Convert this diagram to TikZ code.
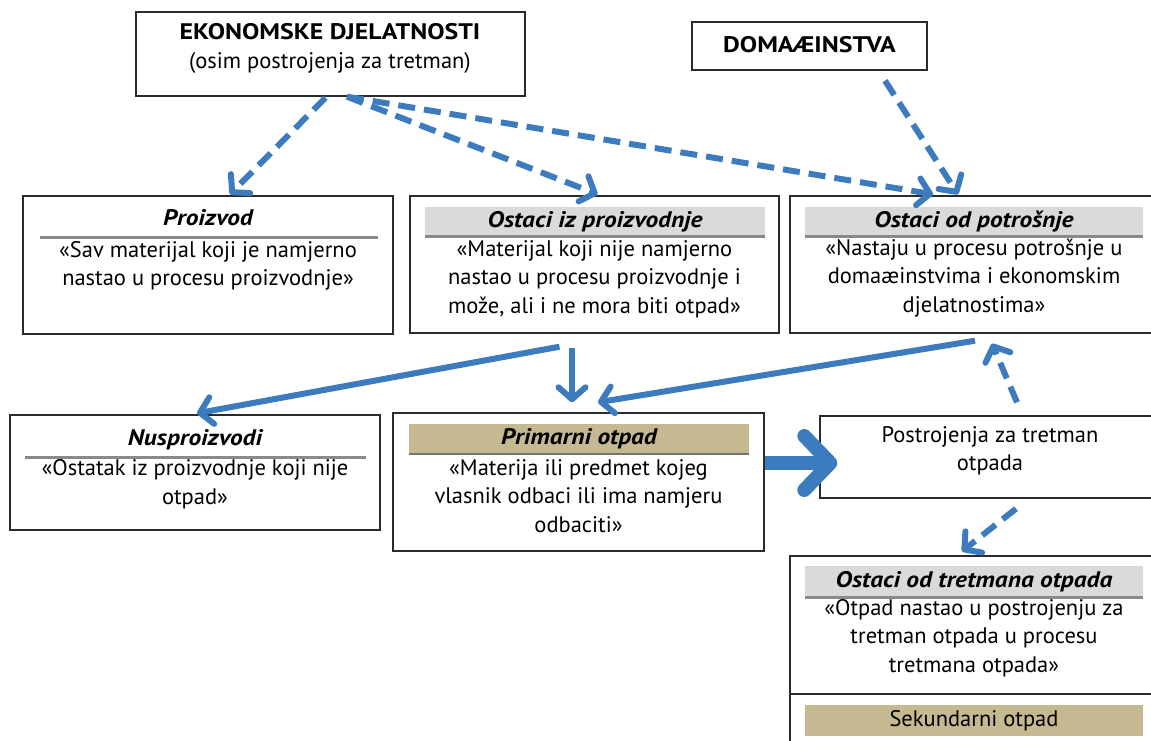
\documentclass[tikz,border=0pt]{standalone}
\usepackage{fontspec}
\setmainfont{PT Sans}
\newfontfamily\headfont[FakeStretch=1.13]{PT Sans}
\newfontfamily\capsfont[FakeStretch=1.15]{PT Sans}
\usetikzlibrary{arrows.meta,calc}
\definecolor{flow}{HTML}{3D7BBF}
\definecolor{boxline}{HTML}{2B2B2B}
\definecolor{headgray}{HTML}{DADADA}
\definecolor{rulegray}{HTML}{8A8A8A}
\definecolor{tan}{HTML}{C4B990}
\tikzset{
  box/.style={draw=boxline, line width=1.4pt, inner sep=0pt},
  txt/.style={align=center, inner sep=0pt, font=\fontsize{22.5}{28.5}\selectfont},
  ttl/.style={inner sep=0pt, font=\fontsize{22.5}{28}\selectfont\headfont\bfseries\itshape},
  grayhead/.style={fill=headgray, inner sep=0pt, font=\fontsize{22.5}{28}\selectfont\headfont\bfseries\itshape},
  tanhead/.style={fill=tan, inner sep=0pt, font=\fontsize{22.5}{28}\selectfont},
  headrule/.style={draw=rulegray, line width=3pt},
  solidflow/.style={draw=flow, line width=6pt, -{Straight Barb[length=12pt,width=27pt,round]}},
  dashflow/.style={solidflow, dash pattern=on 17pt off 9pt},
}
\begin{document}
\begin{tikzpicture}[x=1pt,y=-1pt]
\useasboundingbox (0,0) rectangle (1151,740);

% boxes
\node[box, minimum width=389, minimum height=84] (eko) at (330.5,54) {};
\node[box, minimum width=235, minimum height=48] (dom) at (809.5,46) {};
\node[box, minimum width=370, minimum height=138] (pro) at (208,265) {};
\node[box, minimum width=369, minimum height=137] (oip) at (594.5,264.5) {};
\node[box, minimum width=370, minimum height=137] (oop) at (975,264.5) {};
\node[box, minimum width=370, minimum height=115] (nus) at (195,472.5) {};
\node[box, minimum width=371, minimum height=138] (pri) at (578.5,482) {};
\node[box, minimum width=340, minimum height=82] (pos) at (990,457) {};
\node[box, minimum width=370, minimum height=190] (ott) at (975,651) {};
\draw[boxline, line width=1.4pt] (ott.west |- 0,694) -- (ott.east |- 0,694);

% top labels
\node[txt] (ekot) at (330,48.5) {{\capsfont\bfseries EKONOMSKE DJELATNOSTI}\\(osim postrojenja za tretman)};
\node[txt, font=\fontsize{22.5}{28}\selectfont\capsfont\bfseries] (domt) at (809.5,45) {DOMAÆINSTVA};

% Proizvod
\node[ttl] (prot) at (208,218) {Proizvod};
\draw[headrule] (40,237) -- (378,237);
\node[txt] (prob) at (208,266) {«Sav materijal koji je namjerno\\nastao u procesu proizvodnje»};

% Ostaci iz proizvodnje
\node[grayhead, minimum width=340, minimum height=29] (oiph) at (595,221.5) {Ostaci iz proizvodnje};
\draw[headrule] (oiph.south west) -- (oiph.south east);
\node[txt] (oipb) at (594.5,279) {«Materijal koji nije namjerno\\nastao u procesu proizvodnje i\\može, ali i ne mora biti otpad»};

% Ostaci od potrosnje
\node[grayhead, minimum width=338, minimum height=29] (ooph) at (974,221.5) {Ostaci od potrošnje};
\draw[headrule] (ooph.south west) -- (ooph.south east);
\node[txt] (oopb) at (974,278) {«Nastaju u procesu potrošnje u\\domaæinstvima i ekonomskim\\djelatnostima»};

% Nusproizvodi
\node[ttl] (nust) at (195,440) {Nusproizvodi};
\draw[headrule] (25,457) -- (366,457);
\node[txt] (nusb) at (195,484) {«Ostatak iz proizvodnje koji nije\\otpad»};

% Primarni otpad
\node[tanhead, minimum width=340, minimum height=30, font=\fontsize{22.5}{28}\selectfont\headfont\bfseries\itshape] (prih) at (579,439) {Primarni otpad};
\draw[line width=2pt, draw=black!55] (prih.south west) -- (prih.south east);
\node[txt] (prib) at (578.5,496) {«Materija ili predmet kojeg\\vlasnik odbaci ili ima namjeru\\odbaciti»};

% Postrojenja za tretman otpada
\node[txt] (post) at (990,451) {Postrojenja za tretman\\otpada};

% Ostaci od tretmana otpada
\node[grayhead, minimum width=338, minimum height=31] (otth) at (974,581.5) {Ostaci od tretmana otpada};
\draw[headrule] (otth.south west) -- (otth.south east);
\node[txt] (ottb) at (974,638) {«Otpad nastao u postrojenju za\\tretman otpada u procesu\\tretmana otpada»};
\node[tanhead, minimum width=338, minimum height=31] (sek) at (974,720.5) {Sekundarni otpad};

% flows
\draw[dashflow] ($(eko.south)+(-5,1)$) -- ($(pro.north)+(22,-1)$);
\draw[dashflow] ($(eko.south)+(16.5,0)$) -- ($(oip.north)+(3,-1)$);
\draw[dashflow] ($(eko.south)+(16.5,0)$) -- ($(oop.north)+(-42,-1)$);
\draw[dashflow] ($(dom.south)+(75.5,10)$) -- ($(oop.north)+(-17,-1)$);
\draw[solidflow] ($(oip.south)+(-35,13)$) -- ($(nus.north)+(2,-1)$);
\draw[solidflow] ($(oip.south)+(-22.5,14)$) -- ($(pri.north)+(-6.5,-10)$);
\draw[solidflow] ($(oop.south)+(0,7)$) -- ($(pri.north)+(19.5,-10)$);
\draw[dashflow] ($(pos.north)+(27,-13)$) -- ($(oop.south)+(17,10)$);
\draw[draw=flow, line width=14pt, -{Straight Barb[length=26pt,width=54pt,round]}] ($(pri.east)+(0,-19)$) -- ($(pos.west)+(18,6)$);
\draw[dashflow] ($(pos.south)+(26,10)$) -- ($(ott.north)+(-13,-4)$);
\end{tikzpicture}
\end{document}
